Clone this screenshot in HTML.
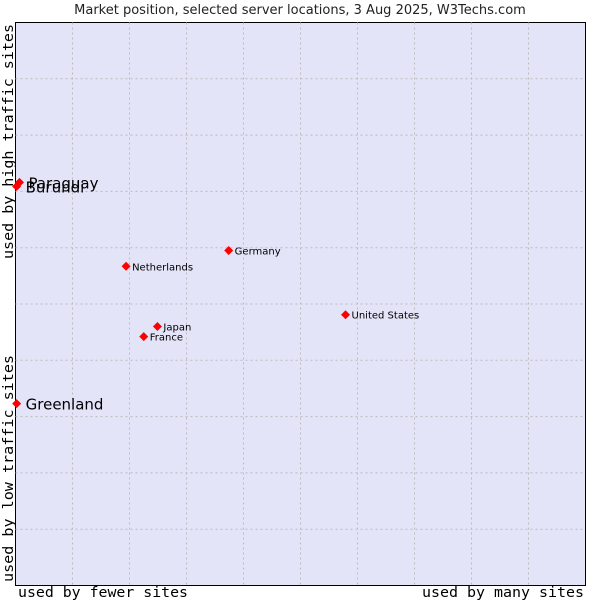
<!DOCTYPE html>
<html><head><meta charset="utf-8"><style>
body{margin:0;background:#fff;width:600px;height:600px;overflow:hidden}
svg{display:block}
</style></head><body>
<svg id="chart" width="600" height="600">
<text x="300" y="14" text-anchor="middle" font-family="DejaVu Sans, sans-serif" font-size="13" fill="#222">Market position, selected server locations, 3 Aug 2025, W3Techs.com</text>
<rect x="15.5" y="22.5" width="570" height="563" fill="#e3e4f8" stroke="#000" stroke-width="1"/>
<g id="grid"></g>
<g id="pts"></g>
<text x="18" y="597" textLength="170" lengthAdjust="spacingAndGlyphs" font-family="DejaVu Sans Mono, monospace" font-size="14" fill="#000">used by fewer sites</text>
<text x="422" y="597" textLength="162" lengthAdjust="spacingAndGlyphs" font-family="DejaVu Sans Mono, monospace" font-size="14" fill="#000">used by many sites</text>
<text transform="translate(13,582) rotate(-90)" textLength="227" lengthAdjust="spacingAndGlyphs" font-family="DejaVu Sans Mono, monospace" font-size="14" fill="#000">used by low traffic sites</text>
<text transform="translate(13,259) rotate(-90)" textLength="235" lengthAdjust="spacingAndGlyphs" font-family="DejaVu Sans Mono, monospace" font-size="14" fill="#000">used by high traffic sites</text>
</svg>
<script>
const names=["Paraguay","Burundi","Greenland","Germany","Netherlands","United States","Japan","France"];
const xVals=[0.7,0.2,0.2,37.4,19.4,57.9,24.9,22.5];
const yVals=[71.6,70.9,32.3,59.5,56.7,48.1,46.0,44.2];
const big=[true,true,true,false,false,false,false,false];
const L=15.5,R=585.5,T=22.5,B=585.5;
const sx=v=>L+(R-L)*v/100, sy=v=>B-(B-T)*v/100;
const NS="http://www.w3.org/2000/svg";
const g=document.getElementById('grid'),p=document.getElementById('pts');
for(let i=1;i<10;i++){
 const v=document.createElementNS(NS,'line');
 
 
 v.setAttribute('x1',sx(i*10));v.setAttribute('x2',sx(i*10));v.setAttribute('y1',T);v.setAttribute('y2',B);
 v.setAttribute('stroke','#bbb');v.setAttribute('stroke-dasharray','2,3');g.appendChild(v);
 const h=document.createElementNS(NS,'line');
 
 
 h.setAttribute('y1',sy(i*10));h.setAttribute('y2',sy(i*10));h.setAttribute('x1',L);h.setAttribute('x2',R);
 h.setAttribute('stroke','#bbb');h.setAttribute('stroke-dasharray','2,3');g.appendChild(h);
}
names.forEach((n,i)=>{
 const x=sx(xVals[i]),y=sy(yVals[i]);
 const d=document.createElementNS(NS,'polygon');
 
 
 d.setAttribute('points',`${x},${y-4.5} ${x+4.5},${y} ${x},${y+4.5} ${x-4.5},${y}`);
 d.setAttribute('fill','#f00');p.appendChild(d);
 const t=document.createElementNS(NS,'text');
 
 
 t.setAttribute('x',x+(big[i]?9:6));t.setAttribute('y',y+(big[i]?6:4));
 t.setAttribute('font-family','DejaVu Sans, sans-serif');t.setAttribute('font-size',big[i]?15:10);
 t.setAttribute('fill','#000');t.textContent=n;p.appendChild(t);
});
</script>
</body></html>
